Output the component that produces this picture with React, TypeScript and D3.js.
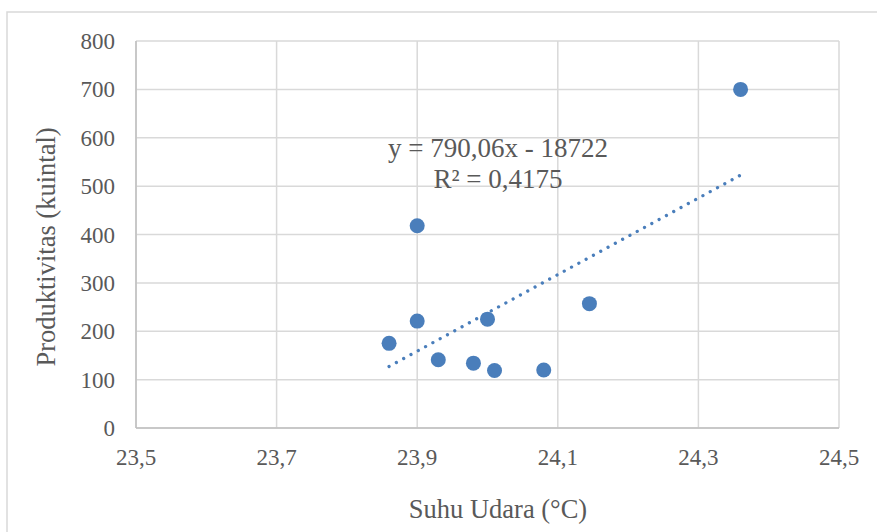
import React from "react"
import * as d3 from "d3"

// Suhu udara (°C) vs produktivitas (kuintal)
const suhu = [23.86, 23.9, 23.9, 23.93, 23.98, 24.0, 24.01, 24.08, 24.145, 24.36]
const produktivitas = [175, 221, 418, 141, 134, 225, 119, 120, 257, 700]

const xTicks = [23.5, 23.7, 23.9, 24.1, 24.3, 24.5]
const yTicks = [0, 100, 200, 300, 400, 500, 600, 700, 800]

const equationLines = ["y = 790,06x - 18722", "R² = 0,4175"]

const W = 877
const H = 532
const margin = { left: 136, right: 38, top: 41, bottom: 104 }

const fmt = (v: number) => v.toFixed(1).replace(".", ",")

export default function App() {
  const width = W - margin.left - margin.right
  const height = H - margin.top - margin.bottom

  const x = d3.scaleLinear().domain([23.5, 24.5]).range([0, width])
  const y = d3.scaleLinear().domain([0, 800]).range([height, 0])

  const points = suhu.map((s, i) => ({ x: s, y: produktivitas[i] }))

  // least squares trendline
  const mx = d3.mean(suhu) as number
  const my = d3.mean(produktivitas) as number
  const slope =
    d3.sum(points, (p) => (p.x - mx) * (p.y - my)) /
    d3.sum(points, (p) => (p.x - mx) * (p.x - mx))
  const intercept = my - slope * mx
  const [x0, x1] = d3.extent(suhu) as [number, number]
  const trend = [x0, x1].map((v) => ({ x: v, y: slope * v + intercept }))

  const line = d3
    .line<{ x: number; y: number }>()
    .x((d) => x(d.x))
    .y((d) => y(d.y))

  const grid = "#d9d9d9"
  const text = "#595959"
  const blue = "#4a7ebb"

  return (
    <svg
      width={W}
      height={H}
      style={{ position: "absolute", left: 0, top: 0, background: "#fff" }}
      fontFamily="'Liberation Serif', 'Times New Roman', serif"
    >
      <rect x={7} y={12} width={W + 20} height={H + 20} fill="#fff" stroke={grid} strokeWidth={1.5} />
      <g transform={`translate(${margin.left},${margin.top})`}>
        {yTicks.map((t) => (
          <line key={"gy" + t} x1={0} x2={width} y1={y(t)} y2={y(t)} stroke={grid} strokeWidth={1.5} />
        ))}
        {xTicks.map((t) => (
          <line key={"gx" + t} x1={x(t)} x2={x(t)} y1={0} y2={height} stroke={grid} strokeWidth={1.5} />
        ))}
        <line x1={0} x2={0} y1={0} y2={height} stroke="#bfbfbf" strokeWidth={1.5} />
        <line x1={0} x2={width} y1={height} y2={height} stroke="#bfbfbf" strokeWidth={1.5} />

        {yTicks.map((t) => (
          <text key={"ty" + t} x={-21} y={y(t)} dy="0.35em" textAnchor="end" fontSize={23} fill={text}>
            {t}
          </text>
        ))}
        {xTicks.map((t) => (
          <text key={"tx" + t} x={x(t)} y={height + 37} textAnchor="middle" fontSize={23} fill={text}>
            {fmt(t)}
          </text>
        ))}

        <path
          d={line(trend) || ""}
          fill="none"
          stroke={blue}
          strokeWidth={3.3}
          strokeLinecap="round"
          strokeDasharray="0.01 8.3"
        />

        {points.map((p, i) => (
          <circle key={i} cx={x(p.x)} cy={y(p.y)} r={7.5} fill={blue} />
        ))}

        {equationLines.map((l, i) => (
          <text
            key={l}
            x={362}
            y={116 + i * 30.5}
            textAnchor="middle"
            fontSize={27}
            fill={text}
          >
            {l}
          </text>
        ))}
      </g>

      <text x={498} y={518} textAnchor="middle" fontSize={26.5} fill={text}>
        Suhu Udara (°C)
      </text>
      <text
        transform="translate(55,247) rotate(-90)"
        textAnchor="middle"
        fontSize={26.5}
        fill={text}
      >
        Produktivitas (kuintal)
      </text>
    </svg>
  )
}
